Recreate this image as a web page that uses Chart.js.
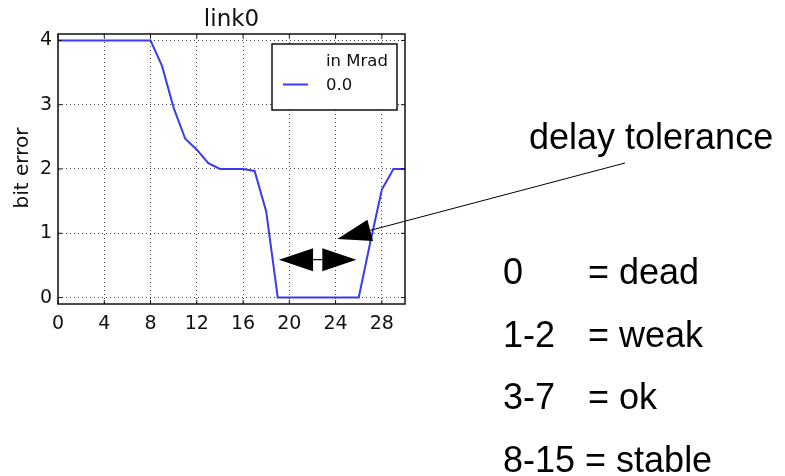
<!DOCTYPE html>
<html>
<head>
<meta charset="utf-8">
<script src="https://cdn.jsdelivr.net/npm/chart.js@4/dist/chart.umd.min.js"></script>
<style>
  html, body { margin: 0; padding: 0; background: #fff; }
  #wrap { width: 785px; height: 476px; position: relative; }
</style>
</head>
<body>
<div id="wrap"><canvas id="chart"></canvas></div>
<script>
// link0 - bit error vs delay
const xValues = [0, 1, 2, 3, 4, 5, 6, 7, 8, 9, 10, 11, 12, 13, 14, 15, 16, 17, 18, 19, 20, 21, 22, 23, 24, 25, 26, 27, 28, 29, 30];
const bitError = [4, 4, 4, 4, 4, 4, 4, 4, 4, 3.6, 2.95, 2.47, 2.3, 2.09, 2, 2, 2, 1.97, 1.34, 0, 0, 0, 0, 0, 0, 0, 0, 0.86, 1.68, 2, 2];
const xTicks = [0, 4, 8, 12, 16, 20, 24, 28];
const yTicks = [0, 1, 2, 3, 4];
const seriesLabel = '0.0';
const legendTitle = 'in Mrad';
const statusLines = [
  ['0', '= dead'],
  ['1-2', '= weak'],
  ['3-7', '= ok'],
  ['8-15 = stable', '']
];

const axisFont = { family: 'DejaVu Sans', size: 19 };

/**
 * Frame, inner ticks, legend, titles and annotations
 */
const decorPlugin = {
  id: 'decor',
  afterDraw(chart) {
    const { ctx, chartArea: a, scales: { x, y } } = chart;
    ctx.save();

    // box around plot
    ctx.strokeStyle = '#111';
    ctx.lineWidth = 1.5;
    ctx.strokeRect(a.left, a.top, a.right - a.left, a.bottom - a.top);

    // inner tick marks on all four sides
    ctx.lineWidth = 1;
    ctx.beginPath();
    xTicks.forEach(v => {
      const px = x.getPixelForValue(v);
      ctx.moveTo(px, a.bottom); ctx.lineTo(px, a.bottom - 4);
      ctx.moveTo(px, a.top); ctx.lineTo(px, a.top + 4);
    });
    yTicks.forEach(v => {
      const py = y.getPixelForValue(v);
      ctx.moveTo(a.left, py); ctx.lineTo(a.left + 4, py);
      ctx.moveTo(a.right, py); ctx.lineTo(a.right - 4, py);
    });
    ctx.stroke();

    // title
    ctx.fillStyle = '#111';
    ctx.font = '23px "DejaVu Sans"';
    ctx.textAlign = 'center';
    ctx.textBaseline = 'alphabetic';
    ctx.fillText('link0', (a.left + a.right) / 2, 26);

    // y axis title
    ctx.save();
    ctx.translate(28, 168);
    ctx.rotate(-Math.PI / 2);
    ctx.font = '20px "DejaVu Sans"';
    ctx.fillText('bit error', 0, 0);
    ctx.restore();

    // legend box
    const lx = 272, ly = 44, lw = 125, lh = 66;
    ctx.fillStyle = '#fff';
    ctx.fillRect(lx, ly, lw, lh);
    ctx.strokeStyle = '#111';
    ctx.lineWidth = 1.5;
    ctx.strokeRect(lx, ly, lw, lh);
    ctx.fillStyle = '#111';
    ctx.font = '16.5px "DejaVu Sans"';
    ctx.textAlign = 'left';
    ctx.fillText(legendTitle, 326, 66);
    ctx.fillText(chart.data.datasets[0].label, 326, 90);
    ctx.strokeStyle = chart.data.datasets[0].borderColor;
    ctx.lineWidth = 2;
    ctx.beginPath();
    ctx.moveTo(283, 84.5); ctx.lineTo(308, 84.5);
    ctx.stroke();

    // double arrow across the dead zone
    const yA = y.getPixelForValue(0.59);
    const tipL = x.getPixelForValue(19.1), tipR = x.getPixelForValue(25.8);
    const baseL = x.getPixelForValue(22.05), baseR = x.getPixelForValue(22.85);
    ctx.fillStyle = '#000';
    ctx.strokeStyle = '#000';
    ctx.lineWidth = 1.2;
    ctx.beginPath();
    ctx.moveTo(baseL, yA); ctx.lineTo(baseR, yA);
    ctx.stroke();
    ctx.beginPath();
    ctx.moveTo(tipL, yA); ctx.lineTo(baseL, yA - 11.5); ctx.lineTo(baseL, yA + 11.5);
    ctx.closePath(); ctx.fill();
    ctx.beginPath();
    ctx.moveTo(tipR, yA); ctx.lineTo(baseR, yA - 11.5); ctx.lineTo(baseR, yA + 11.5);
    ctx.closePath(); ctx.fill();

    // pointer to "delay tolerance"
    const tx = x.getPixelForValue(24.15), ty = y.getPixelForValue(0.91);
    const ex = 625, ey = 163;
    const ang = Math.atan2(ey - ty, ex - tx);
    const hl = 34, hw = 11;
    const bx = tx + Math.cos(ang) * hl, by = ty + Math.sin(ang) * hl;
    ctx.lineWidth = 1;
    ctx.beginPath();
    ctx.moveTo(bx, by); ctx.lineTo(ex, ey);
    ctx.stroke();
    ctx.beginPath();
    ctx.moveTo(tx, ty);
    ctx.lineTo(bx - Math.sin(ang) * hw, by + Math.cos(ang) * hw);
    ctx.lineTo(bx + Math.sin(ang) * hw, by - Math.cos(ang) * hw);
    ctx.closePath(); ctx.fill();

    // side notes
    ctx.font = '36px "Liberation Sans"';
    ctx.fillStyle = '#000';
    ctx.textAlign = 'left';
    ctx.fillText('delay tolerance', 529, 149);
    const baselines = [284, 347, 409, 472];
    statusLines.forEach((row, i) => {
      ctx.fillText(row[0], 503, baselines[i]);
      if (row[1]) ctx.fillText(row[1], 588, baselines[i]);
    });

    ctx.restore();
  }
};

new Chart(document.getElementById('chart'), {
  type: 'line',
  data: {
    datasets: [{
      label: seriesLabel,
      data: xValues.map((v, i) => ({ x: v, y: bitError[i] })),
      borderColor: '#3a3af2',
      borderWidth: 2,
      pointRadius: 0,
      tension: 0,
      fill: false
    }]
  },
  options: {
    responsive: true,
    maintainAspectRatio: false,
    animation: false,
    layout: { padding: { left: 0, top: 34, right: 380, bottom: 142 } },
    plugins: {
      legend: { display: false },
      title: { display: false },
      tooltip: { enabled: false }
    },
    scales: {
      x: {
        type: 'linear',
        min: 0,
        max: 30,
        afterBuildTicks: s => { s.ticks = xTicks.map(v => ({ value: v })); },
        afterFit: s => { s.height = 30; },
        grid: { color: '#444', lineWidth: 1, drawTicks: false },
        border: { display: false, dash: [1, 3] },
        ticks: { font: axisFont, color: '#111', padding: 9, maxRotation: 0 }
      },
      y: {
        min: -0.1,
        max: 4.1,
        afterBuildTicks: s => { s.ticks = yTicks.map(v => ({ value: v })); },
        afterFit: s => { s.width = 58; },
        grid: { color: '#444', lineWidth: 1, drawTicks: false },
        border: { display: false, dash: [1, 3] },
        ticks: { font: axisFont, color: '#111', padding: 6 }
      }
    }
  },
  plugins: [decorPlugin]
});
</script>
</body>
</html>
